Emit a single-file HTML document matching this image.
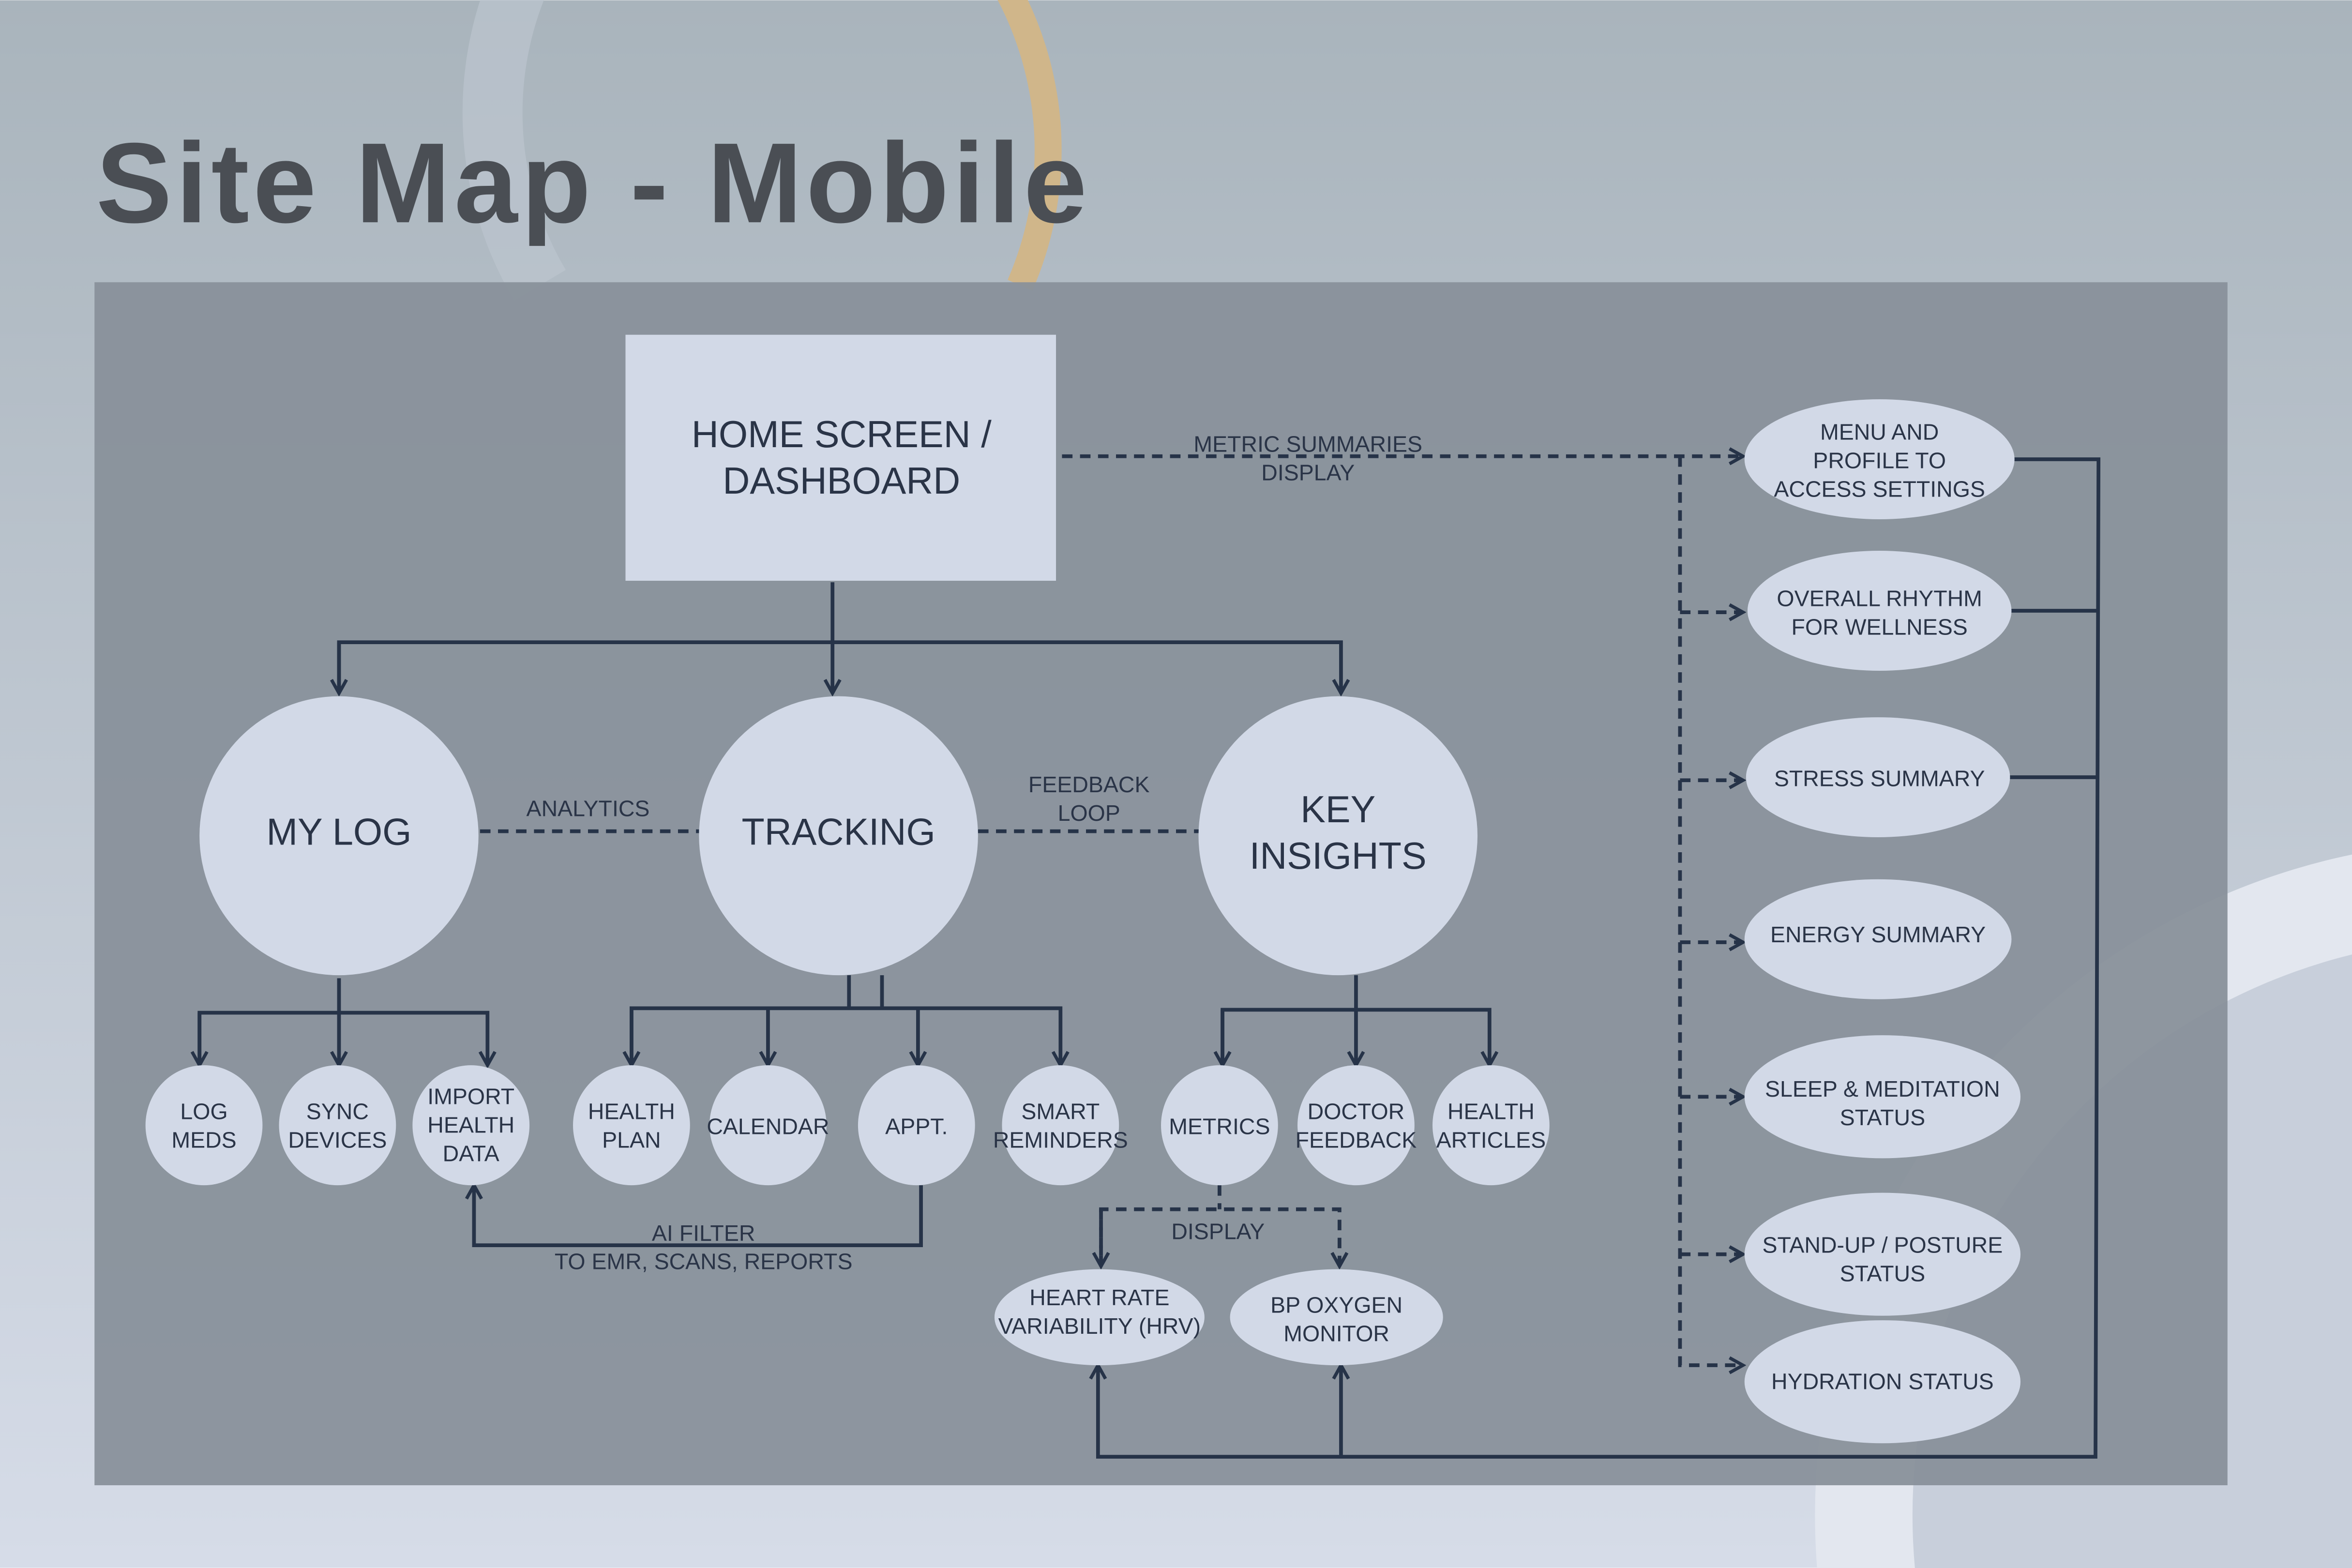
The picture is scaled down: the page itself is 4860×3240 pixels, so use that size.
<!DOCTYPE html>
<html><head><meta charset="utf-8"><style>
html,body{margin:0;padding:0;width:4860px;height:3240px;overflow:hidden}
svg{display:block}
text{font-family:"Liberation Sans",sans-serif;fill:#2a3447}
</style></head><body>
<svg width="4860" height="3240" viewBox="0 0 1568 1045" xmlns="http://www.w3.org/2000/svg">
<defs>
<linearGradient id="bg" x1="0" y1="0" x2="0" y2="1"><stop offset="0" stop-color="#a9b4bc"/><stop offset="1" stop-color="#d6dce8"/></linearGradient>
<marker id="ah" viewBox="0 0 12 12" refX="10" refY="6" markerWidth="12" markerHeight="12" markerUnits="userSpaceOnUse" orient="auto"><path d="M1,1 L10,6 L1,11" fill="none" stroke="#263348" stroke-width="2.2"/></marker>
</defs>
<rect width="1568" height="1045" fill="url(#bg)"/>
<path d="M 670,-10 A 225,225 0 0 1 680,190" fill="none" stroke="#d0b68a" stroke-width="18"/>
<path d="M 345,-10 A 225,225 0 0 0 360,190" fill="none" stroke="#bcc5ce" stroke-width="40" opacity="0.7"/>
<circle cx="1660" cy="1010" r="450" fill="#e3e7ef"/>
<circle cx="1660" cy="1010" r="385" fill="#c8cfdb"/>
<text x="64" y="148" style="font-size:76px;font-weight:bold;fill:#4a4e54;letter-spacing:2.5px">Site Map - Mobile</text>
<rect x="63" y="188" width="1422" height="802" fill="#88919a" opacity="0.94"/>
<g stroke="#263348" stroke-width="2.5" fill="none">
<line x1="555" y1="388" x2="555" y2="462" marker-end="url(#ah)"/>
<polyline points="226,462 226,428 894,428 894,462" marker-end="url(#ah)"/>
<path d="M226,428 V462" marker-end="url(#ah)"/>
<path d="M226,652 V710" marker-end="url(#ah)"/>
<polyline points="133,710 133,675 325,675 325,710" marker-end="url(#ah)"/>
<path d="M133,675 V710" marker-end="url(#ah)"/>
<path d="M566,650 V672 M588,650 V672"/>
<polyline points="421,710 421,672 707,672 707,710" marker-end="url(#ah)"/>
<path d="M421,672 V710" marker-end="url(#ah)"/>
<path d="M512,672 V710" marker-end="url(#ah)"/>
<path d="M612,672 V710" marker-end="url(#ah)"/>
<path d="M904,650 V710" marker-end="url(#ah)"/>
<polyline points="815,710 815,673 993,673 993,710" marker-end="url(#ah)"/>
<path d="M815,673 V710" marker-end="url(#ah)"/>
<polyline points="614,790 614,830 316,830 316,790" marker-end="url(#ah)"/>
<polyline points="1343,306 1399,306 1397,971 732,971 732,910" marker-end="url(#ah)"/>
<path d="M894,971 V910" marker-end="url(#ah)"/>
<path d="M1340,407 H1399 M1340,518 H1399"/>
</g>
<g stroke="#263348" stroke-width="2.5" fill="none" stroke-dasharray="7 5">
<path d="M708,304 H1162" marker-end="url(#ah)"/>
<path d="M1120,304 V910 H1162" marker-end="url(#ah)"/>
<path d="M1120,408 H1162" marker-end="url(#ah)"/>
<path d="M1120,520 H1162" marker-end="url(#ah)"/>
<path d="M1120,628 H1162" marker-end="url(#ah)"/>
<path d="M1120,731 H1162" marker-end="url(#ah)"/>
<path d="M1120,836 H1162" marker-end="url(#ah)"/>
<path d="M320,554 H466 M652,554 H800"/>
<path d="M813,790 V806 M734,844 V806 H893 V844" marker-end="url(#ah)"/>
<path d="M734,806 V844" marker-end="url(#ah)"/>
</g>
<g fill="#d2d9e7">
<rect x="417" y="223" width="287" height="164"/>
<circle cx="226" cy="557" r="93"/><circle cx="559" cy="557" r="93"/><circle cx="892" cy="557" r="93"/>
<ellipse cx="136" cy="750" rx="39" ry="40"/><ellipse cx="225" cy="750" rx="39" ry="40"/><ellipse cx="314" cy="750" rx="39" ry="40"/>
<ellipse cx="421" cy="750" rx="39" ry="40"/><ellipse cx="512" cy="750" rx="39" ry="40"/><ellipse cx="611" cy="750" rx="39" ry="40"/><ellipse cx="707" cy="750" rx="39" ry="40"/>
<ellipse cx="813" cy="750" rx="39" ry="40"/><ellipse cx="904" cy="750" rx="39" ry="40"/><ellipse cx="994" cy="750" rx="39" ry="40"/>
<ellipse cx="733" cy="878" rx="70" ry="32"/><ellipse cx="891" cy="878" rx="71" ry="32"/>
<ellipse cx="1253" cy="306" rx="90" ry="40"/><ellipse cx="1253" cy="407" rx="88" ry="40"/><ellipse cx="1252" cy="518" rx="88" ry="40"/><ellipse cx="1252" cy="626" rx="89" ry="40"/><ellipse cx="1255" cy="731" rx="92" ry="41"/><ellipse cx="1255" cy="836" rx="92" ry="41"/><ellipse cx="1255" cy="921" rx="92" ry="41"/>
</g>
<g text-anchor="middle" font-size="25">
<text x="561" y="298">HOME SCREEN /</text><text x="561" y="329">DASHBOARD</text>
<text x="226" y="563">MY LOG</text><text x="559" y="563">TRACKING</text>
<text x="892" y="548">KEY</text><text x="892" y="579">INSIGHTS</text>
</g>
<g text-anchor="middle" font-size="15">
<text x="392" y="544">ANALYTICS</text><text x="726" y="528">FEEDBACK</text><text x="726" y="547">LOOP</text>
<text x="872" y="301">METRIC SUMMARIES</text><text x="872" y="320">DISPLAY</text>
<text x="469" y="827">AI FILTER</text><text x="469" y="846">TO EMR, SCANS, REPORTS</text>
<text x="812" y="826">DISPLAY</text>
<text x="136" y="746">LOG</text><text x="136" y="765">MEDS</text>
<text x="225" y="746">SYNC</text><text x="225" y="765">DEVICES</text>
<text x="314" y="736">IMPORT</text><text x="314" y="755">HEALTH</text><text x="314" y="774">DATA</text>
<text x="421" y="746">HEALTH</text><text x="421" y="765">PLAN</text>
<text x="512" y="756">CALENDAR</text><text x="611" y="756">APPT.</text>
<text x="707" y="746">SMART</text><text x="707" y="765">REMINDERS</text>
<text x="813" y="756">METRICS</text>
<text x="904" y="746">DOCTOR</text><text x="904" y="765">FEEDBACK</text>
<text x="994" y="746">HEALTH</text><text x="994" y="765">ARTICLES</text>
<text x="733" y="870">HEART RATE</text><text x="733" y="889">VARIABILITY (HRV)</text>
<text x="891" y="875">BP OXYGEN</text><text x="891" y="894">MONITOR</text>
<text x="1253" y="293">MENU AND</text><text x="1253" y="312">PROFILE TO</text><text x="1253" y="331">ACCESS  SETTINGS</text>
<text x="1253" y="404">OVERALL RHYTHM</text><text x="1253" y="423">FOR WELLNESS</text>
<text x="1253" y="524">STRESS SUMMARY</text>
<text x="1252" y="628">ENERGY SUMMARY</text>
<text x="1255" y="731">SLEEP &amp; MEDITATION</text><text x="1255" y="750">STATUS</text>
<text x="1255" y="835">STAND-UP / POSTURE</text><text x="1255" y="854">STATUS</text>
<text x="1255" y="926">HYDRATION STATUS</text>
</g>
</svg>
</body></html>
